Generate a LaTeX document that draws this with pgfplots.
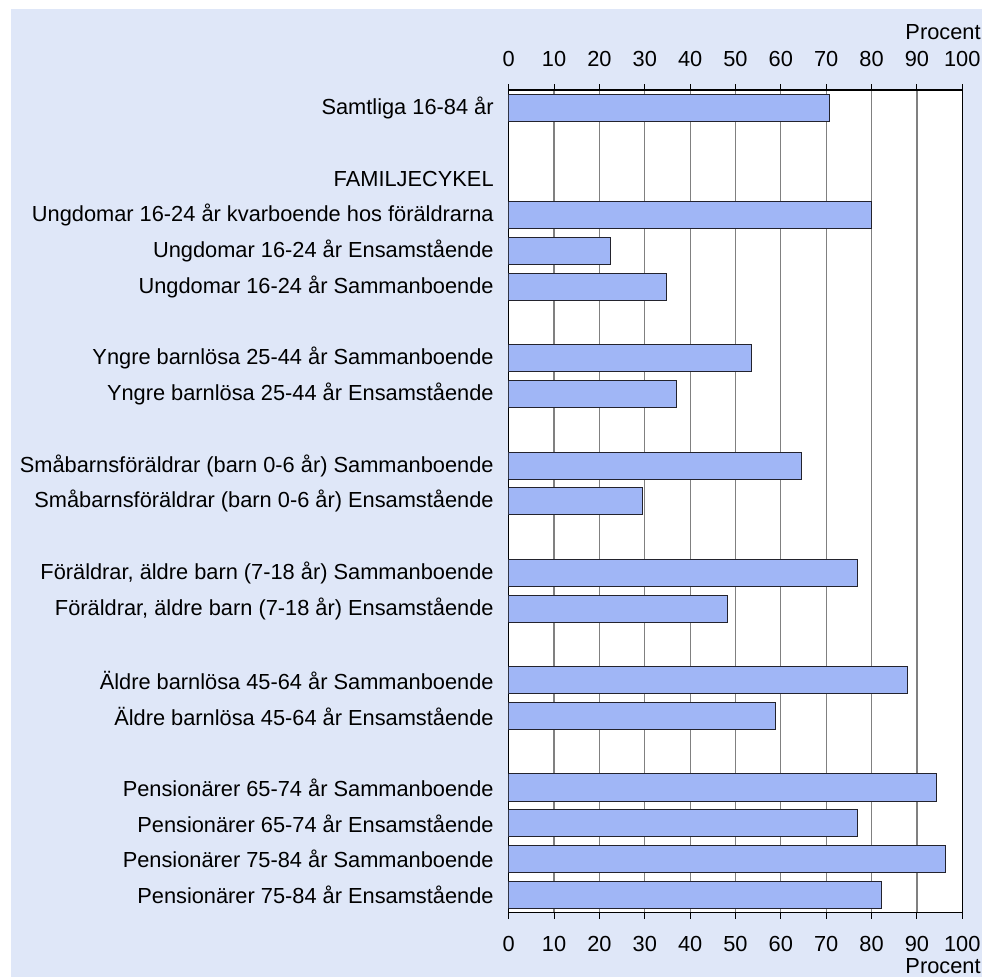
\documentclass[border=0pt]{standalone}
\usepackage{fontspec}
\setmainfont{Liberation Sans}
\usepackage{pgfplots}
\pgfplotsset{compat=1.18}
\definecolor{bgblue}{RGB}{223,231,248}
\definecolor{barblue}{RGB}{160,182,246}
\definecolor{bardark}{RGB}{35,35,45}
\definecolor{gridgray}{RGB}{128,128,128}
\newcommand{\lab}{\fontsize{10.9}{12.5}\selectfont}

\pgfplotsset{
  procent/.style={
    scale only axis, width=226.8pt, height=411.35pt,
    at={(367.75pt,-250.7pt)}, anchor=center,
    xmin=0, xmax=100, ymin=-0.5, ymax=22.5, y dir=reverse,
    xtick={0,10,...,100},
    tick align=outside, major tick length=3pt,
    every tick label/.append style={font=\lab},
    /pgf/number format/assume math mode=true,
  }
}

\begin{document}
\begin{tikzpicture}
\useasboundingbox (0,0) rectangle (491pt,-488.5pt);
\fill[white] (0,0) rectangle (491pt,-488.5pt);
\fill[bgblue] (5.5pt,-4.5pt) rectangle (491pt,-488.5pt);

% main axis: bars, box, grid, bottom labels
\begin{axis}[procent,
  axis background/.style={fill=white},
  axis line style={black, line width=0.6pt},
  xtick style={black, line width=0.5pt},
  xtick pos=both, xticklabel pos=lower,
  xticklabel style={yshift=-5pt},
  xmajorgrids, major grid style={gridgray, line width=0.6pt},
  ytick={0,...,22}, ytick style={draw=none},
  yticklabel style={font=\lab, xshift=-1pt},
  yticklabels={
    {Samtliga 16-84 år},{},{FAMILJECYKEL},
    {Ungdomar 16-24 år kvarboende hos föräldrarna},
    {Ungdomar 16-24 år Ensamstående},
    {Ungdomar 16-24 år Sammanboende},{},
    {Yngre barnlösa 25-44 år Sammanboende},
    {Yngre barnlösa 25-44 år Ensamstående},{},
    {Småbarnsföräldrar (barn 0-6 år) Sammanboende},
    {Småbarnsföräldrar (barn 0-6 år) Ensamstående},{},
    {Föräldrar, äldre barn (7-18 år) Sammanboende},
    {Föräldrar, äldre barn (7-18 år) Ensamstående},{},
    {Äldre barnlösa 45-64 år Sammanboende},
    {Äldre barnlösa 45-64 år Ensamstående},{},
    {Pensionärer 65-74 år Sammanboende},
    {Pensionärer 65-74 år Ensamstående},
    {Pensionärer 75-84 år Sammanboende},
    {Pensionärer 75-84 år Ensamstående}},
]
\addplot[xbar, bar width=0.76, fill=barblue, draw=bardark, line width=0.5pt]
  coordinates {
  (70.7,0) (80.0,3) (22.4,4) (34.7,5)
  (53.6,7) (36.9,8) (64.6,10) (29.5,11)
  (76.9,13) (48.3,14) (87.9,16) (58.9,17)
  (94.4,19) (76.9,20) (96.2,21) (82.2,22)};
\end{axis}

% second axis: labels on the other side only
\begin{axis}[procent,
  axis line style={draw=none},
  xtick style={draw=none},
  xticklabel pos=upper,
  xticklabel style={yshift=5pt},
  ytick=\empty,
]
\end{axis}

\node[anchor=east, inner sep=0pt, font=\lab] at (490.5pt,-16pt) {Procent};
\node[anchor=east, inner sep=0pt, font=\lab] at (490.5pt,-483pt) {Procent};
\end{tikzpicture}
\end{document}
